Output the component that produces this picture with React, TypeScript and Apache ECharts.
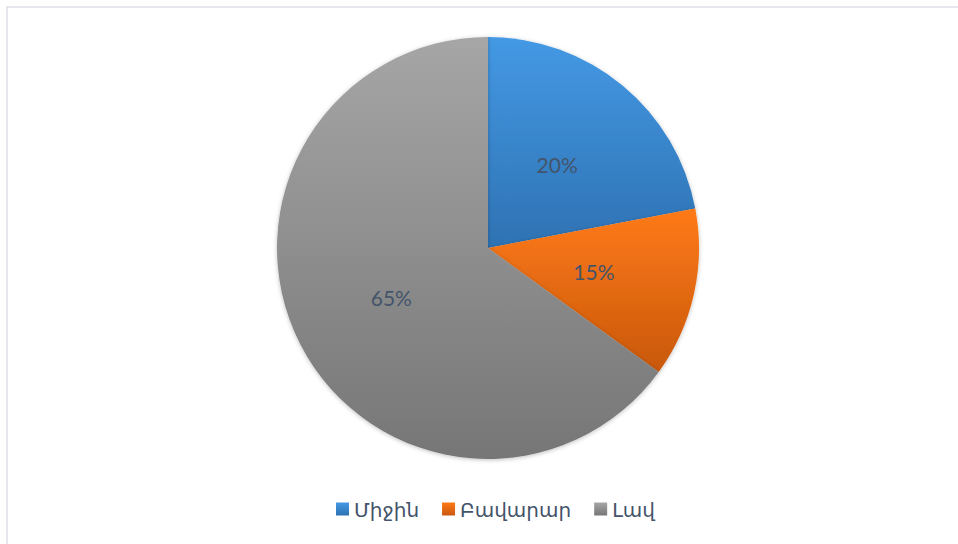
import React, { useEffect, useRef } from "react";
import * as echarts from "echarts";

const categories = ["Միջին", "Բավարար", "Լավ"];
const sliceValues = [22, 13, 65];
const sliceLabels = ["20%", "15%", "65%"];
const topColors = ["#4499e4", "#ff7a14", "#a6a6a6"];
const bottomColors = ["#2e72b3", "#c8580f", "#767676"];

export default function App() {
  const ref = useRef<HTMLDivElement>(null);
  useEffect(() => {
    if (!ref.current) return;
    const chart = echarts.init(ref.current, undefined, { renderer: "svg" });
    const font = "Lato, 'DejaVu Sans', sans-serif";
    chart.setOption({
      animation: false,
      backgroundColor: "#ffffff",
      graphic: [
        {
          type: "rect",
          shape: { x: 7, y: 7, width: 1000, height: 600 },
          style: { fill: "none", stroke: "#dde0e7", lineWidth: 1.5 },
          silent: true,
          z: -10,
        },
      ],
      legend: {
        bottom: 20,
        left: 331,
        itemWidth: 13,
        itemHeight: 13,
        itemGap: 23,
        icon: "rect",
        textStyle: { color: "#44546a", fontSize: 20, fontFamily: font },
        data: categories,
      },
      series: [
        {
          type: "pie",
          center: [488, 248],
          radius: 211,
          startAngle: 90,
          clockwise: true,
          label: {
            show: true,
            position: "inside",
            color: "#44546a",
            fontSize: 21,
            fontFamily: font,
            formatter: (p: any) => sliceLabels[p.dataIndex],
          },
          labelLine: { show: false },
          emphasis: { disabled: true },
          itemStyle: {
            shadowBlur: 4,
            shadowColor: "rgba(0,0,0,0.25)",
            shadowOffsetY: 1,
          },
          data: categories.map((name, i) => ({
            name,
            value: sliceValues[i],
            itemStyle: {
              color: new echarts.graphic.LinearGradient(0, 0, 0, 1, [
                { offset: 0, color: topColors[i] },
                { offset: 1, color: bottomColors[i] },
              ]),
            },
          })),
        },
      ],
    });
    return () => chart.dispose();
  }, []);
  return (
    <div
      ref={ref}
      style={{ position: "absolute", left: 0, top: 0, width: 958, height: 544 }}
    />
  );
}
